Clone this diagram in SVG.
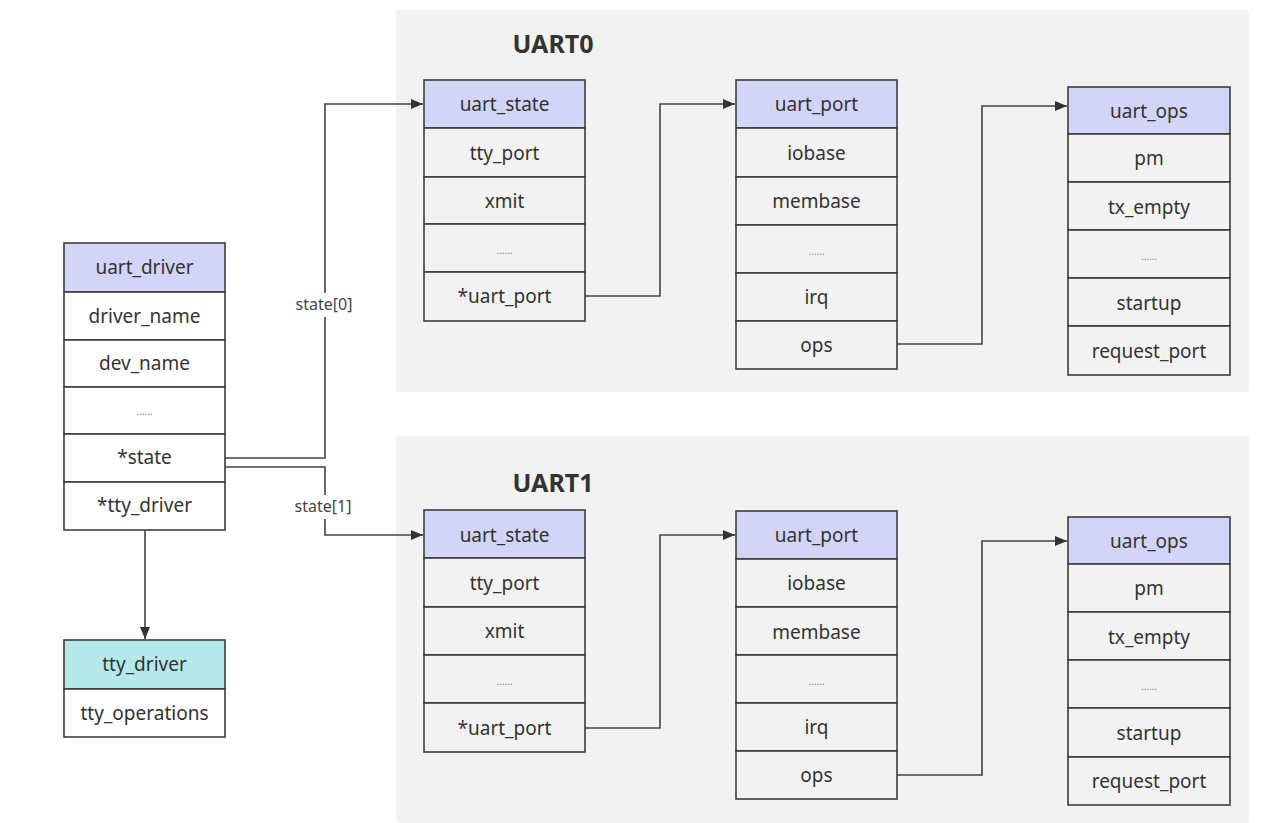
<svg xmlns="http://www.w3.org/2000/svg" width="1275" height="823" viewBox="0 0 1275 823">
<defs>
<marker id="arr" markerUnits="userSpaceOnUse" markerWidth="14" markerHeight="12" refX="12" refY="6" orient="auto">
<path d="M0,1 L12,6 L0,11 Z" fill="#333"/>
</marker>
<style>
.grp{fill:#f2f2f2;stroke:none}
.hd{fill:#d2d5f7;stroke:#3c3c3c;stroke-width:1.6}
.hdc{fill:#b5e8e8;stroke:#3c3c3c;stroke-width:1.6}
.rw{fill:#ffffff;stroke:#3c3c3c;stroke-width:1.6}
.rg{fill:#f2f2f2;stroke:#3c3c3c;stroke-width:1.6}
.t{font-family:"Noto Sans","Open Sans",sans-serif;font-size:19px;fill:#333;text-anchor:middle;dominant-baseline:central}
.dots{font-family:"Noto Sans",sans-serif;font-size:10px;fill:#888;text-anchor:middle;dominant-baseline:central}
.ttl{font-family:"Noto Sans","Open Sans",sans-serif;font-size:25px;font-weight:bold;fill:#333;text-anchor:middle;dominant-baseline:central}
.lbl{font-family:"Noto Sans","Open Sans",sans-serif;font-size:16px;fill:#444;text-anchor:middle;dominant-baseline:central}
.cn{fill:none;stroke:#444;stroke-width:1.6}
</style>
</defs>

<g id="uart0-group">
<rect class="grp" x="396" y="10" width="853" height="382" rx="3"/>
<text class="ttl" x="553" y="43">UART0</text>
</g>
<g id="uart1-group">
<rect class="grp" x="396" y="436" width="853" height="387" rx="3"/>
<text class="ttl" x="553" y="482">UART1</text>
</g>

<g id="uart_driver">
<rect class="hd" x="64" y="243" width="161" height="49"/>
<text class="t" x="144.5" y="267">uart_driver</text>
<rect class="rw" x="64" y="292" width="161" height="48"/>
<text class="t" x="144.5" y="316">driver_name</text>
<rect class="rw" x="64" y="340" width="161" height="47"/>
<text class="t" x="144.5" y="363">dev_name</text>
<rect class="rw" x="64" y="387" width="161" height="47"/>
<text class="dots" x="144.5" y="411">......</text>
<rect class="rw" x="64" y="434" width="161" height="48"/>
<text class="t" x="144.5" y="457">*state</text>
<rect class="rw" x="64" y="482" width="161" height="48"/>
<text class="t" x="144.5" y="505">*tty_driver</text>
</g>

<g id="tty_driver">
<rect class="hdc" x="64" y="640" width="161" height="49"/>
<text class="t" x="144.5" y="664">tty_driver</text>
<rect class="rw" x="64" y="689" width="161" height="48"/>
<text class="t" x="144.5" y="713">tty_operations</text>
</g>

<g id="uart_state0">
<rect class="hd" x="424" y="80" width="161" height="48"/>
<text class="t" x="504.5" y="104">uart_state</text>
<rect class="rg" x="424" y="128" width="161" height="49"/>
<text class="t" x="504.5" y="153">tty_port</text>
<rect class="rg" x="424" y="177" width="161" height="47"/>
<text class="t" x="504.5" y="201">xmit</text>
<rect class="rg" x="424" y="224" width="161" height="48"/>
<text class="dots" x="504.5" y="250">......</text>
<rect class="rg" x="424" y="272" width="161" height="49"/>
<text class="t" x="504.5" y="296">*uart_port</text>
</g>

<g id="uart_port0">
<rect class="hd" x="736" y="80" width="161" height="48"/>
<text class="t" x="816.5" y="104">uart_port</text>
<rect class="rg" x="736" y="128" width="161" height="49"/>
<text class="t" x="816.5" y="153">iobase</text>
<rect class="rg" x="736" y="177" width="161" height="48"/>
<text class="t" x="816.5" y="201">membase</text>
<rect class="rg" x="736" y="225" width="161" height="48"/>
<text class="dots" x="816.5" y="251">......</text>
<rect class="rg" x="736" y="273" width="161" height="48"/>
<text class="t" x="816.5" y="297">irq</text>
<rect class="rg" x="736" y="321" width="161" height="48"/>
<text class="t" x="816.5" y="345">ops</text>
</g>

<g id="uart_ops0">
<rect class="hd" x="1068" y="87" width="162" height="47"/>
<text class="t" x="1149" y="111">uart_ops</text>
<rect class="rg" x="1068" y="134" width="162" height="48"/>
<text class="t" x="1149" y="158">pm</text>
<rect class="rg" x="1068" y="182" width="162" height="48"/>
<text class="t" x="1149" y="207">tx_empty</text>
<rect class="rg" x="1068" y="230" width="162" height="48"/>
<text class="dots" x="1149" y="256">......</text>
<rect class="rg" x="1068" y="278" width="162" height="48"/>
<text class="t" x="1149" y="303">startup</text>
<rect class="rg" x="1068" y="326" width="162" height="49"/>
<text class="t" x="1149" y="351">request_port</text>
</g>

<g id="uart_state1">
<rect class="hd" x="424" y="510" width="161" height="48"/>
<text class="t" x="504.5" y="535">uart_state</text>
<rect class="rg" x="424" y="558" width="161" height="49"/>
<text class="t" x="504.5" y="583">tty_port</text>
<rect class="rg" x="424" y="607" width="161" height="48"/>
<text class="t" x="504.5" y="631">xmit</text>
<rect class="rg" x="424" y="655" width="161" height="48"/>
<text class="dots" x="504.5" y="681">......</text>
<rect class="rg" x="424" y="703" width="161" height="49"/>
<text class="t" x="504.5" y="728">*uart_port</text>
</g>

<g id="uart_port1">
<rect class="hd" x="736" y="511" width="161" height="48"/>
<text class="t" x="816.5" y="535">uart_port</text>
<rect class="rg" x="736" y="559" width="161" height="48"/>
<text class="t" x="816.5" y="583">iobase</text>
<rect class="rg" x="736" y="607" width="161" height="48"/>
<text class="t" x="816.5" y="632">membase</text>
<rect class="rg" x="736" y="655" width="161" height="48"/>
<text class="dots" x="816.5" y="681">......</text>
<rect class="rg" x="736" y="703" width="161" height="48"/>
<text class="t" x="816.5" y="727">irq</text>
<rect class="rg" x="736" y="751" width="161" height="48"/>
<text class="t" x="816.5" y="775">ops</text>
</g>

<g id="uart_ops1">
<rect class="hd" x="1068" y="517" width="162" height="47"/>
<text class="t" x="1149" y="541">uart_ops</text>
<rect class="rg" x="1068" y="564" width="162" height="48"/>
<text class="t" x="1149" y="588">pm</text>
<rect class="rg" x="1068" y="612" width="162" height="48"/>
<text class="t" x="1149" y="637">tx_empty</text>
<rect class="rg" x="1068" y="660" width="162" height="48"/>
<text class="dots" x="1149" y="686">......</text>
<rect class="rg" x="1068" y="708" width="162" height="49"/>
<text class="t" x="1149" y="733">startup</text>
<rect class="rg" x="1068" y="757" width="162" height="48"/>
<text class="t" x="1149" y="781">request_port</text>
</g>

<g id="connectors">
<path class="cn" d="M225,458 H325 V104 H423" marker-end="url(#arr)"/>
<rect x="290" y="293" width="68" height="24" fill="#ffffff"/>
<text class="lbl" x="324" y="304">state[0]</text>
<path class="cn" d="M225,467 H325 V535 H423" marker-end="url(#arr)"/>
<rect x="290" y="495" width="68" height="24" fill="#ffffff"/>
<text class="lbl" x="323" y="506">state[1]</text>
<path class="cn" d="M585,296 H660 V104 H735" marker-end="url(#arr)"/>
<path class="cn" d="M897,344 H982 V106 H1067" marker-end="url(#arr)"/>
<path class="cn" d="M585,728 H660 V535 H735" marker-end="url(#arr)"/>
<path class="cn" d="M897,775 H982 V541 H1067" marker-end="url(#arr)"/>
<path class="cn" d="M145,530 V639" marker-end="url(#arr)"/>
</g>
</svg>
